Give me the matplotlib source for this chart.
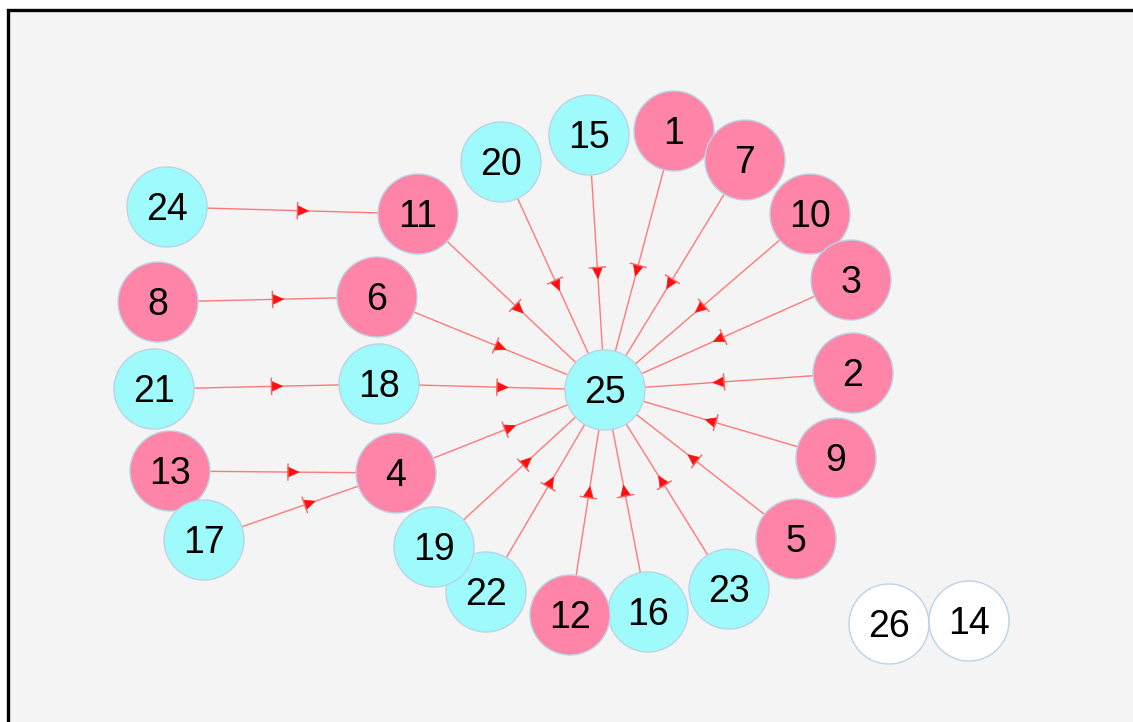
import matplotlib
matplotlib.use("Agg")
import matplotlib.pyplot as plt
from matplotlib.patches import Circle, Rectangle, Polygon
import numpy as np

# Node data (layout positions in pixel space of the original drawing)
node_ids = ["25", "1", "7", "10", "3", "2", "9", "5", "23", "16", "12", "22", "19",
            "4", "18", "6", "11", "20", "15", "24", "8", "21", "13", "17", "26", "14"]
node_x = [605, 674, 745, 810, 851, 853, 836, 796, 729, 648, 570, 486, 434,
          396, 379, 377, 418, 501, 589, 167, 158, 154, 170, 204, 889, 969]
node_y = [390, 131, 160, 214, 280, 373, 458, 539, 589, 612, 615, 592, 547,
          473, 384, 297, 214, 162, 135, 207, 302, 389, 471, 540, 624, 621]
node_group = ["b", "a", "a", "a", "a", "a", "a", "a", "b", "b", "a", "b", "b",
              "a", "b", "a", "a", "b", "b", "b", "a", "b", "a", "b", "c", "c"]

# Directed edges (source -> target)
edge_src = ["1", "7", "10", "3", "2", "9", "5", "23", "16", "12", "22", "19",
            "4", "18", "6", "11", "20", "15", "24", "8", "21", "13", "17"]
edge_dst = ["25", "25", "25", "25", "25", "25", "25", "25", "25", "25", "25", "25",
            "25", "25", "25", "25", "25", "25", "11", "6", "18", "4", "4"]

group_color = {"a": "#FF85A8", "b": "#9FFBFB", "c": "#FFFFFF"}

W, H = 1133, 722
fig = plt.figure(figsize=(W / 100, H / 100), dpi=100)
fig.patch.set_facecolor("white")
ax = fig.add_axes([0, 0, 1, 1])
ax.set_xlim(0, W)
ax.set_ylim(H, 0)
ax.set_aspect("equal")
ax.axis("off")

# panel background with border
ax.add_patch(Rectangle((8, 10), 1140, 730, facecolor="#F4F4F4",
                       edgecolor="black", linewidth=2.4, zorder=0))

pos = {n: (x, y) for n, x, y in zip(node_ids, node_x, node_y)}
R = 40

for s, d in zip(edge_src, edge_dst):
    x0, y0 = pos[s]
    x1, y1 = pos[d]
    ax.plot([x0, x1], [y0, y1], color="#FF7A7A", linewidth=1.0, zorder=1,
            solid_capstyle="butt")
    v = np.array([x1 - x0, y1 - y0], dtype=float)
    L = np.hypot(*v)
    u = v / L
    p = np.array([-u[1], u[0]])
    mid = np.array([(x0 + x1) / 2, (y0 + y1) / 2])
    tip = mid + u * 16
    base = mid + u * 5
    tri = np.array([tip, base + p * 5, base - p * 5])
    ax.add_patch(Polygon(tri, closed=True, facecolor="#FF1010",
                         edgecolor="#FF1010", linewidth=0.5, zorder=2))
    b0 = base + p * 8
    b1 = base - p * 8
    ax.plot([b0[0], b1[0]], [b0[1], b1[1]], color="#FF6060", linewidth=1.0, zorder=2)

fs = 27
cap_px = 0.716 * fs * 100 / 72
for n, x, y, g in zip(node_ids, node_x, node_y, node_group):
    ax.add_patch(Circle((x, y), R, facecolor=group_color[g],
                        edgecolor="#BCD3E6", linewidth=1.0, zorder=3))
    ax.text(x, y + cap_px / 2, n, ha="center", va="baseline", fontsize=fs,
            family="Liberation Sans", color="black", zorder=4)

fig.savefig("out.png", dpi=100, facecolor="white")
